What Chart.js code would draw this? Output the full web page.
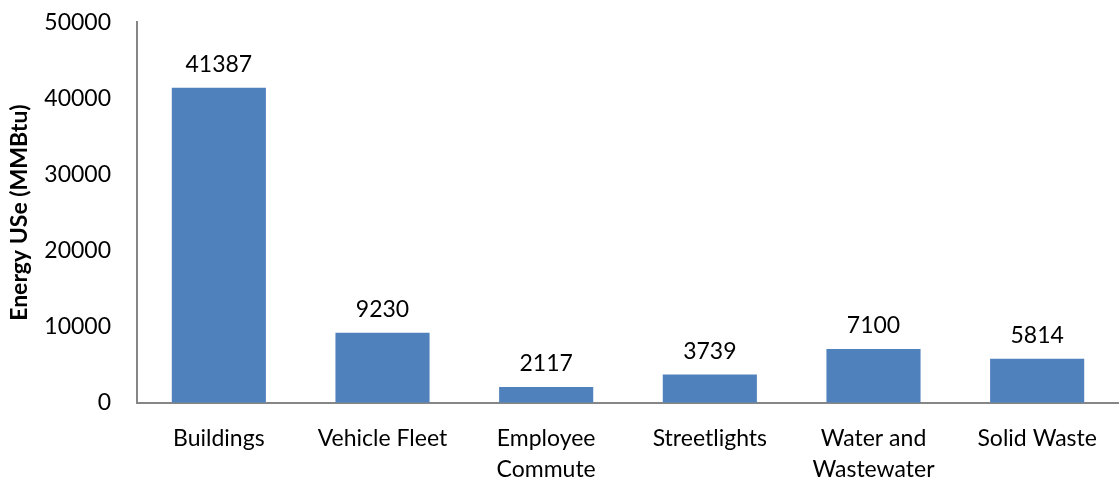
<!DOCTYPE html>
<html>
<head>
<meta charset="utf-8">
<script src="https://cdn.jsdelivr.net/npm/chart.js@4/dist/chart.umd.min.js"></script>
<style>
  html, body { margin: 0; padding: 0; background: #fff; overflow: hidden; }
  #frame { width: 1119px; height: 485px; position: relative; overflow: hidden; }
  #wrap { width: 1119px; height: 498px; position: absolute; left: 0; top: -13px; }
</style>
</head>
<body>
<div id="frame"><div id="wrap"><canvas id="c"></canvas></div></div>
<script>
// Energy use by municipal sector
const categories = ["Buildings", "Vehicle Fleet", ["Employee", "Commute"], "Streetlights", ["Water and", "Wastewater"], "Solid Waste"];
const energyUse = [41387, 9230, 2117, 3739, 7100, 5814];
const yTicks = [0, 10000, 20000, 30000, 40000, 50000];

const FONT = "Lato, 'Open Sans', sans-serif";
const AXIS_GREY = "#868686";
const BAR_BLUE = "#4F81BD";

// Writes each bar's value just above it
const valueLabels = {
  id: "valueLabels",
  afterDatasetsDraw(chart) {
    const ctx = chart.ctx;
    const meta = chart.getDatasetMeta(0);
    ctx.save();
    ctx.font = "23px " + FONT;
    ctx.fillStyle = "#000";
    ctx.textAlign = "center";
    ctx.textBaseline = "alphabetic";
    meta.data.forEach((bar, i) => {
      ctx.fillText(String(energyUse[i]), bar.x, bar.y - 16);
    });
    ctx.restore();
  }
};

new Chart(document.getElementById("c"), {
  type: "bar",
  data: {
    labels: categories,
    datasets: [{
      data: energyUse,
      backgroundColor: BAR_BLUE,
      borderWidth: 0,
      barPercentage: 0.575,
      categoryPercentage: 1.0
    }]
  },
  options: {
    responsive: true,
    maintainAspectRatio: false,
    animation: false,
    devicePixelRatio: 1,
    layout: { padding: { top: 22, right: 0, left: 6, bottom: 0 } },
    plugins: {
      legend: { display: false },
      tooltip: { enabled: false }
    },
    scales: {
      x: {
        grid: { display: true, drawOnChartArea: false, drawTicks: false },
        border: { display: true, color: AXIS_GREY, width: 2 },
        ticks: {
          color: "#000",
          font: { family: FONT, size: 23, lineHeight: 1.35 },
          padding: 20,
          maxRotation: 0,
          autoSkip: false
        },
        afterFit(scale) { scale.height = 82; }
      },
      y: {
        min: 0,
        max: 50000,
        afterBuildTicks(scale) { scale.ticks = yTicks.map(v => ({ value: v })); },
        grid: { display: true, drawOnChartArea: false, drawTicks: false },
        border: { display: true, color: AXIS_GREY, width: 2 },
        ticks: {
          color: "#000",
          font: { family: FONT, size: 23, lineHeight: 0.8 },
          padding: 26,
          callback: (v) => String(v)
        },
        title: {
          display: true,
          text: "Energy USe (MMBtu)",
          color: "#000",
          font: { family: FONT, size: 23, weight: "bold" },
          padding: { top: 0, bottom: 0 }
        },
        afterFit(scale) { scale.width = 131; }
      }
    }
  },
  plugins: [valueLabels]
});
</script>
</body>
</html>
